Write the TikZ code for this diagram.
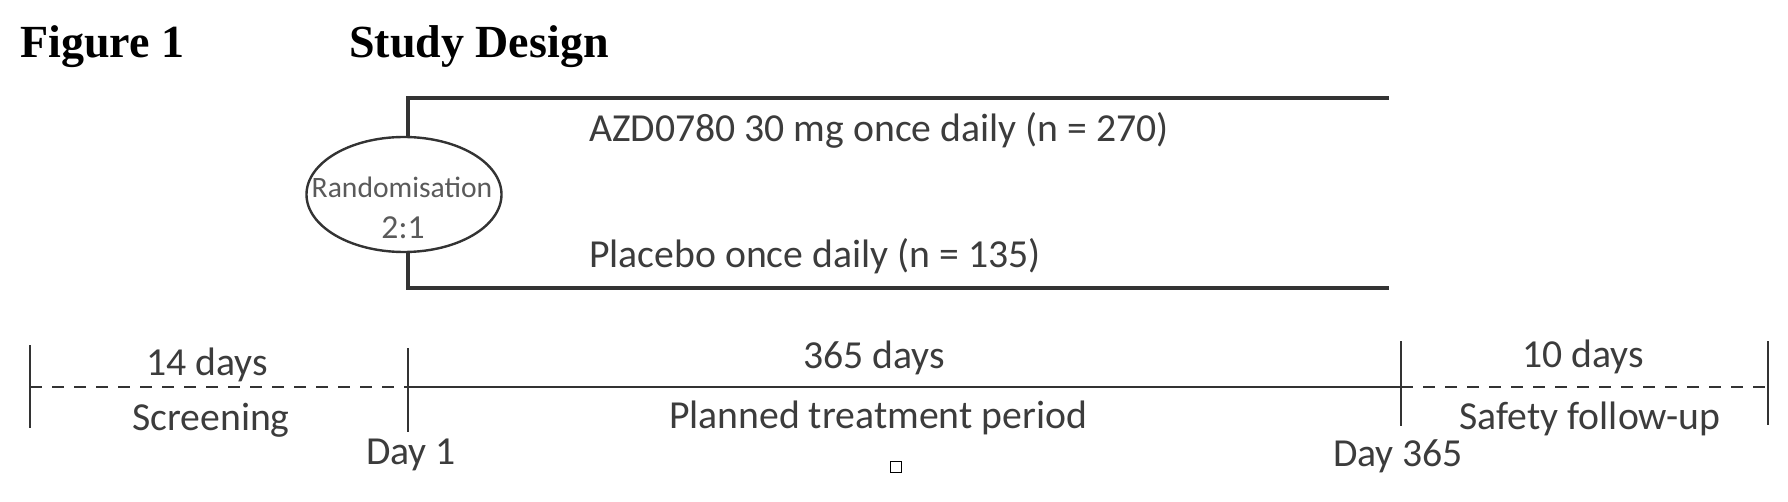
\documentclass[tikz,border=0pt]{standalone}
\usepackage{fontspec}
\setmainfont{Carlito}
\newfontfamily\titlefont{Liberation Serif}
\usetikzlibrary{shapes.geometric}
\definecolor{linegray}{HTML}{333333}
\definecolor{txtgray}{HTML}{3C3C3C}
\definecolor{randgray}{HTML}{5A5A5A}
\tikzset{
  txt/.style={font=\fontsize{39.7bp}{44bp}\selectfont, text=txtgray, inner sep=0pt},
  ttl/.style={font=\titlefont\bfseries\fontsize{46bp}{50bp}\selectfont, text=black, inner sep=0pt, anchor=base west},
  arm/.style={draw=linegray, line width=3.4bp},
  tl/.style={draw=linegray, line width=2.8bp},
  dashline/.style={draw=linegray, line width=2.4bp, dash pattern=on 12bp off 10bp},
  tick/.style={draw=linegray, line width=2.4bp},
  randbox/.style={ellipse, draw=linegray, line width=2.4bp, minimum width=195bp, minimum height=115bp, inner sep=0pt}
}
\begin{document}
\begin{tikzpicture}[x=1bp, y=-1bp]
\useasboundingbox[fill=white] (0,0) rectangle (1788,502);
% titles
\node[ttl] (fig) at (20,58) {Figure 1};
\node[ttl] (sd) at (349,58) {Study Design};
% randomisation
\node[randbox] (rand) at (404,194.5) {};
\node[txt, anchor=base, text=randgray, font=\fontsize{29.6bp}{32bp}\selectfont] (randtxt) at (402,198) {Randomisation};
\node[txt, anchor=base, text=randgray, font=\fontsize{33.6bp}{36bp}\selectfont] (ratio) at (403,239) {2:1};
% arms
\coordinate (atl) at (408,98);
\coordinate (atr) at (1389,98);
\coordinate (abl) at (408,288);
\coordinate (abr) at (1389,288);
\draw[arm] (rand.north -| atl) -- (atl) -- (atr);
\draw[arm] (rand.south -| abl) -- (abl) -- (abr);
\node[txt, anchor=base west] (azd) at (589,142) {AZD0780 30 mg once daily (n = 270)};
\node[txt, anchor=base west] (pbo) at (589,268) {Placebo once daily (n = 135)};
% timeline
\coordinate (t0) at (30,387);
\coordinate (t1) at (408,387);
\coordinate (t2) at (1401,387);
\coordinate (t3) at (1768,387);
\draw[tick] (30,345) -- (30,428);
\draw[tick] (408,348) -- (408,432);
\draw[tick] (1401,341) -- (1401,426);
\draw[tick] (1768,341) -- (1768,425);
\draw[dashline] (t0) -- (t1);
\draw[tl] (t1) -- (t2);
\draw[dashline] (t2) -- (t3);
% labels
\node[txt, anchor=base] (d14) at (207,375) {14 days};
\node[txt, anchor=base] (scr) at (211,430) {Screening};
\node[txt, anchor=base] (day1) at (411,464) {Day 1};
\node[txt, anchor=base] (d365) at (874,368) {365 days};
\node[txt, anchor=base] (ptp) at (878,428) {Planned treatment period};
\node[txt, anchor=base] (d10) at (1583,367) {10 days};
\node[txt, anchor=base] (sfu) at (1590,429) {Safety follow-up};
\node[txt, anchor=base] (day365) at (1398,466) {Day 365};
% stray marker
\node[draw=black, line width=1.2bp, minimum size=11bp, inner sep=0pt] (mark) at (896,467) {};
\end{tikzpicture}
\end{document}
